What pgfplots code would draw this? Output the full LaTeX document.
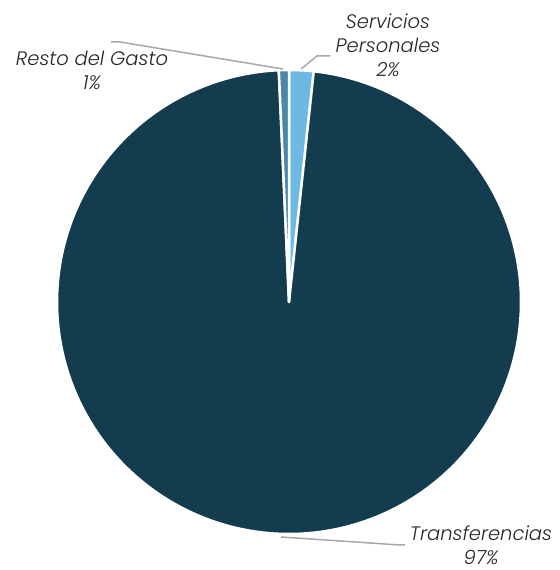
\documentclass[border=0pt]{standalone}
\usepackage{pgfplots}
\pgfplotsset{compat=1.18}
\usepackage{fontspec}
\setmainfont{Poppins}[UprightFont=*-Light,ItalicFont=*-LightItalic]
\definecolor{cTr}{HTML}{133D4F}
\definecolor{cSP}{HTML}{6CB9E4}
\definecolor{cRe}{HTML}{4B87A8}
\definecolor{cLine}{HTML}{A8A8A8}
\definecolor{cTxt}{HTML}{262626}
% shares in percent
\def\vSP{1.7}
\def\vTR{97.6}
\def\vRE{0.7}
\begin{document}
\begin{tikzpicture}
\pgfmathsetmacro{\aA}{90}
\pgfmathsetmacro{\aB}{90-3.6*\vSP}
\pgfmathsetmacro{\aC}{\aB-3.6*\vTR}
\pgfmathsetmacro{\aD}{\aC-3.6*\vRE}
\begin{axis}[scale only axis, width=559bp, height=570bp,
  xmin=0, xmax=559, ymin=0, ymax=570, hide axis, clip=false]
\addplot[draw=none] coordinates {(0,0) (559,570)};
\addplot[fill=cSP, draw=white, line width=2.5bp, line join=round, domain=\aB:\aA, samples=20, variable=\t]
  ({289+232*cos(\t)},{268+232*sin(\t)}) -- (axis cs:289,268) -- cycle;
\addplot[fill=cTr, draw=white, line width=2.5bp, line join=round, domain=\aC:\aB, samples=300, variable=\t]
  ({289+232*cos(\t)},{268+232*sin(\t)}) -- (axis cs:289,268) -- cycle;
\addplot[fill=cRe, draw=white, line width=2.5bp, line join=round, domain=\aD:\aC, samples=10, variable=\t]
  ({289+232*cos(\t)},{268+232*sin(\t)}) -- (axis cs:289,268) -- cycle;
% leader lines
\addplot[cLine, line width=1.5bp] coordinates {(111,528) (120,528) (283,501)};
\addplot[cLine, line width=1.5bp] coordinates {(301,501) (317,514) (330,514)};
\addplot[cLine, line width=1.5bp] coordinates {(281,33) (400,25) (405,25)};
% labels
\begin{scope}[every node/.style={font=\fontsize{19.5bp}{24bp}\selectfont\itshape, text=cTxt, align=center, inner sep=0pt}]
\node at (axis cs:388,525) {Servicios\\Personales\\2\%};
\node at (axis cs:92,500) {Resto del Gasto\\1\%};
\node at (axis cs:481,25) {Transferencias\\97\%};
\end{scope}
\end{axis}
\end{tikzpicture}
\end{document}
